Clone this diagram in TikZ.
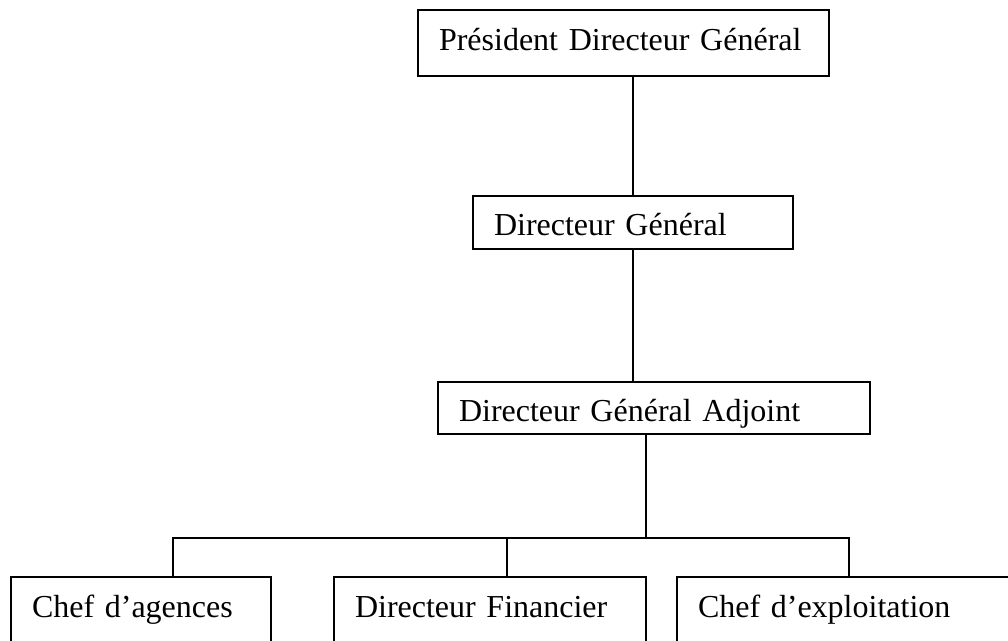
\documentclass[tikz,border=0pt]{standalone}
\usepackage{fontspec}
\setmainfont{Liberation Serif}
\usepackage{tikz}
\usetikzlibrary{positioning,calc}

\tikzset{
  orgbox/.style={draw, line width=1.4pt, anchor=north west, outer sep=0pt,
    inner xsep=15.75pt, inner ysep=0pt, align=left,
    font=\fontsize{24}{28}\selectfont},
  toprow/.style={text height=30.75pt, text depth=60pt},
  link/.style={line width=1.4pt}
}

\begin{document}
\begin{tikzpicture}[x=0.75pt, y=-0.75pt]
  \useasboundingbox (0,0) rectangle (1008,641);
  \clip (0,0) rectangle (1008,641);

  % boxes
  \node[orgbox, text width=276.75pt, text height=30.75pt, text depth=18.75pt] (pdg) at (418,10) {Président Directeur Général};
  \node[orgbox, text width=208.5pt, text height=30pt, text depth=9.75pt] (dg) at (473,196) {Directeur Général};
  \node[orgbox, text width=292.5pt, text height=30pt, text depth=9pt] (dga) at (438,382) {Directeur Général Adjoint};
  \node[orgbox, toprow, text width=163.5pt] (agences) at (11,577) {Chef d’agences};
  \node[orgbox, toprow, text width=202.5pt] (financier) at (334,577) {Directeur Financier};
  \node[orgbox, toprow, text width=268.5pt] (exploitation) at (677,577) {Chef d’exploitation};

  % branching points
  \coordinate (split) at (646,538);
  \coordinate (ja) at (173,538);
  \coordinate (jf) at (507,538);
  \coordinate (je) at (849,538);

  \draw[link] (dg.north) -- (dg.north |- pdg.south);
  \draw[link] (dg.south) -- (dg.south |- dga.north);
  \draw[link] (dga.south -| split) -- (split);
  \draw[link] (ja |- agences.north) -- (ja) -- (je) -- (je |- exploitation.north);
  \draw[link] (jf) -- (jf |- financier.north);
\end{tikzpicture}
\end{document}
